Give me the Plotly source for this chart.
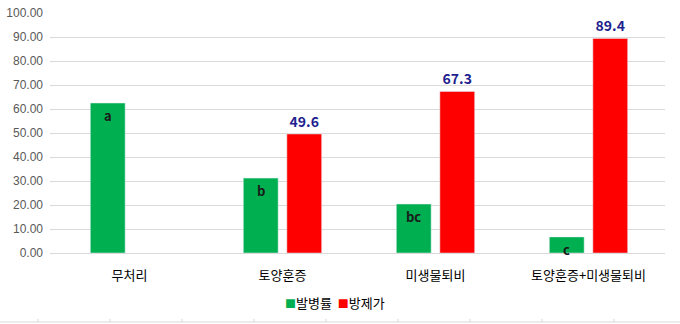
import plotly.graph_objects as go

categories = ["무처리", "토양훈증", "미생물퇴비", "토양훈증+미생물퇴비"]
incidence = [62.5, 31.2, 20.4, 6.7]
incidence_letters = ["a", "b", "bc", "c"]
control = [None, 49.6, 67.3, 89.4]
control_labels = ["", "49.6", "67.3", "89.4"]
y_ticks = [0, 10, 20, 30, 40, 50, 60, 70, 80, 90, 100]
legend_names = ["발병률", "방제가"]
colors = ["#00B050", "#FF0000"]

FONT = "Noto Sans CJK KR"

fig = go.Figure()
fig.add_trace(go.Bar(
    name=legend_names[0], x=categories, y=incidence, marker_color=colors[0],
    hoverinfo="skip",
))
fig.add_trace(go.Bar(
    name=legend_names[1], x=categories, y=control, marker_color=colors[1],
    text=control_labels, textposition="outside", constraintext="none", textangle=0,
    textfont=dict(family=FONT, size=14, color="#1F1F8F", weight="bold"),
    hoverinfo="skip",
))

# significance letters inside the top of the green bars
for c, v, t in zip(categories, incidence, incidence_letters):
    fig.add_annotation(x=c, y=v, text=f"<b>{t}</b>", showarrow=False,
                       xshift=-21.75, yanchor="top", yshift=-1,
                       font=dict(family=FONT, size=13, color="#1a1a1a"))

fig.update_layout(
    width=680, height=324,
    margin=dict(l=50, r=15, t=13, b=71, autoexpand=False),
    paper_bgcolor="white", plot_bgcolor="white",
    barmode="group", bargap=0.431, bargroupgap=0.2,
    font=dict(family=FONT, color="#000000"),
    showlegend=False,
    xaxis=dict(range=[-0.5196, 3.5], showline=False, showgrid=False,
               ticks="outside", ticklen=10, tickcolor="rgba(0,0,0,0)",
               tickfont=dict(family=FONT, size=13, color="#000000")),
    yaxis=dict(range=[0, 100], tickvals=y_ticks, tickformat=".2f",
               showgrid=True, gridcolor="#D9D9D9", gridwidth=1,
               zeroline=True, zerolinecolor="#D9D9D9", zerolinewidth=1,
               showline=False, ticks="", ticklabelstandoff=6,
               tickfont=dict(family="Liberation Sans", size=12, color="#595959")),
)

# legend drawn as text
legend_text = "  ".join(
    f'<span style="color:{col};font-size:11px">■</span>{name}' for name, col in zip(legend_names, colors))
fig.add_annotation(xref="paper", yref="paper", x=(335 - 50) / 615, y=-(302 - 253) / 240,
                   text=legend_text, showarrow=False, xanchor="center", yanchor="middle",
                   font=dict(family=FONT, size=13, color="#000000"))

# spreadsheet border line at the bottom edge
yb = -(322 - 253) / 240
fig.add_shape(type="line", xref="paper", yref="paper", x0=-50 / 615, x1=680 / 615,
              y0=yb, y1=yb, line=dict(color="#D9D9D9", width=1))
for px in [38, 110, 182, 254, 326, 398, 470, 542, 614]:
    xp = (px - 50) / 615
    fig.add_shape(type="line", xref="paper", yref="paper", x0=xp, x1=xp,
                  y0=yb, y1=yb + 3 / 240, line=dict(color="#D9D9D9", width=1))

fig.write_html("out.html")
